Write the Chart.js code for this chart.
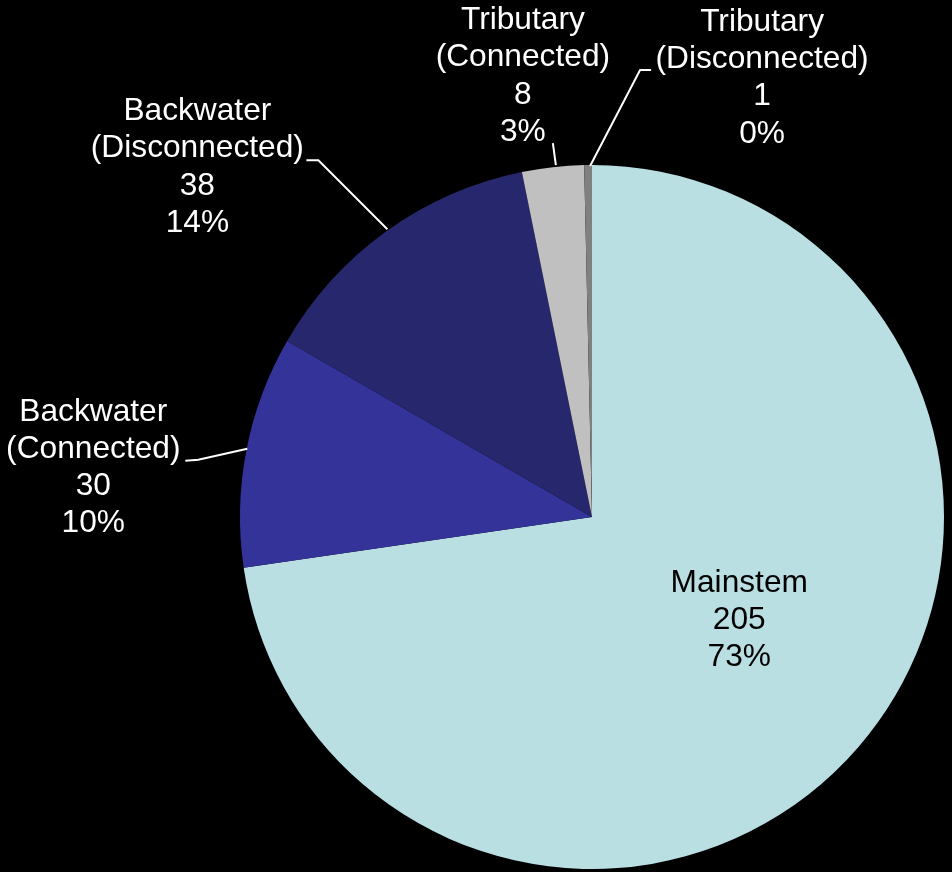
<!DOCTYPE html>
<html>
<head>
<meta charset="utf-8">
<script src="https://cdn.jsdelivr.net/npm/chart.js@4"></script>
<style>
  html, body { margin: 0; padding: 0; background: #000; }
  #wrap { width: 952px; height: 872px; }
</style>
</head>
<body>
<div id="wrap"><canvas id="pieChart" width="952" height="872"></canvas></div>
<script>
// slice data
const categories = ['Mainstem', 'Backwater (Connected)', 'Backwater (Disconnected)', 'Tributary (Connected)', 'Tributary (Disconnected)'];
const labelLines = [['Mainstem'], ['Backwater', '(Connected)'], ['Backwater', '(Disconnected)'], ['Tributary', '(Connected)'], ['Tributary', '(Disconnected)']];
const counts = [205, 30, 38, 8, 1];
const percentLabels = ['73%', '10%', '14%', '3%', '0%'];

const sliceColors = ['#B9DFE3', '#333399', '#27276E', '#C0C0C0', '#808080'];
const textColors = ['#000000', '#ffffff', '#ffffff', '#ffffff', '#ffffff'];

// where each label sits, relative to the point on the rim at the slice's mid angle
const labelPlacement = [
    { text: [-119, -127], leader: null },
    { text: [-153, 17], leader: [[1, -2], [-48, 9], [-61, 10]] },
    { text: [-189, -64], leader: [[1, -2], [-68, -71], [-80, -71]] },
    { text: [-30, -91], leader: [[3, -2], [0, -24]] },
    { text: [174, -87], leader: [[2, 1], [52, -95], [63, -95]] }
];

const FONT_SIZE = 31.7;
const LINE_H = 37.3;

const sliceLabels = {
    id: 'sliceLabels',
    afterDatasetsDraw(chart) {
        const ctx = chart.ctx;
        const meta = chart.getDatasetMeta(0);
        meta.data.forEach((arc, i) => {
            const p = arc.getProps(['x', 'y', 'startAngle', 'endAngle', 'outerRadius'], true);
            const mid = (p.startAngle + p.endAngle) / 2;
            const ex = p.x + Math.cos(mid) * p.outerRadius;
            const ey = p.y + Math.sin(mid) * p.outerRadius;
            const place = labelPlacement[i];

            ctx.save();
            if (place.leader) {
                ctx.strokeStyle = '#ffffff';
                ctx.lineWidth = 2;
                ctx.beginPath();
                place.leader.forEach((pt, k) => {
                    if (k === 0) ctx.moveTo(ex + pt[0], ey + pt[1]);
                    else ctx.lineTo(ex + pt[0], ey + pt[1]);
                });
                ctx.stroke();
            }

            const lines = labelLines[i].concat([String(counts[i]), percentLabels[i]]);
            const cx = ex + place.text[0];
            const cy = ey + place.text[1];
            ctx.fillStyle = textColors[i];
            ctx.font = FONT_SIZE + 'px "Liberation Sans", Arial, sans-serif';
            ctx.textAlign = 'center';
            ctx.textBaseline = 'middle';
            const top = cy - (lines.length - 1) * LINE_H / 2;
            lines.forEach((t, k) => ctx.fillText(t, cx, top + k * LINE_H));
            ctx.restore();
        });
    }
};

new Chart(document.getElementById('pieChart').getContext('2d'), {
    type: 'pie',
    data: {
        labels: categories,
        datasets: [{
            data: counts,
            backgroundColor: sliceColors,
            borderWidth: 0
        }]
    },
    options: {
        responsive: false,
        animation: false,
        layout: { padding: { left: 240, right: 8, top: 165, bottom: 3 } },
        plugins: {
            legend: { display: false },
            tooltip: { enabled: false }
        }
    },
    plugins: [sliceLabels]
});
</script>
</body>
</html>
